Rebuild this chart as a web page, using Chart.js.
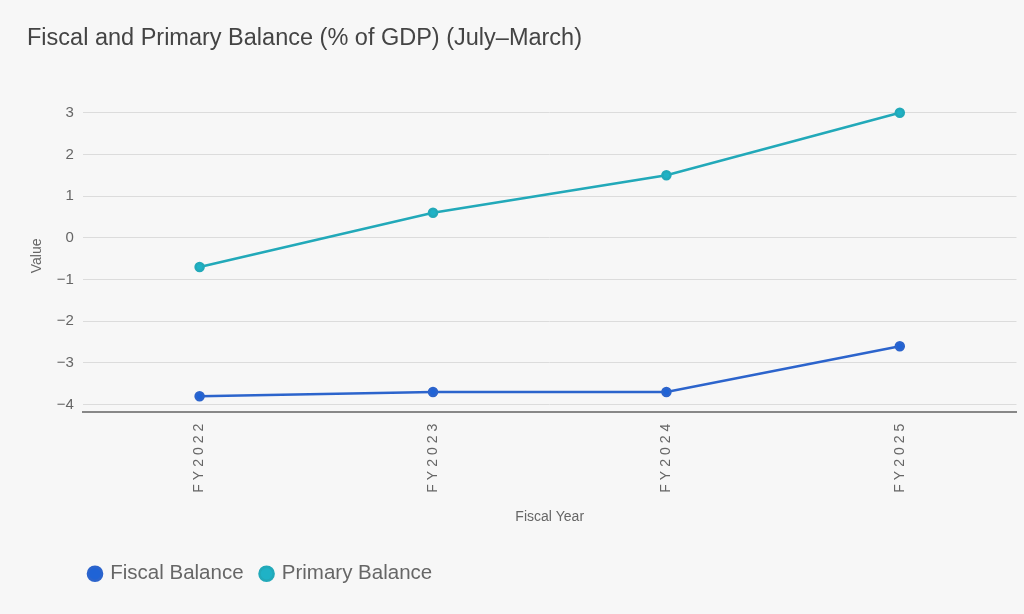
<!DOCTYPE html>
<html>
<head>
<meta charset="utf-8">
<script src="https://cdn.jsdelivr.net/npm/chart.js@4"></script>
<style>
  html, body { margin: 0; padding: 0; background: #f7f7f7; }
  #wrap { width: 1024px; height: 614px; }
</style>
</head>
<body>
<div id="wrap"><canvas id="myChart"></canvas></div>
<script>
const years = ['FY2022', 'FY2023', 'FY2024', 'FY2025'];
const fiscalBalance = [-3.8, -3.7, -3.7, -2.6];
const primaryBalance = [-0.7, 0.6, 1.5, 3.0];

const fontFamily = "'Liberation Sans', Arial, sans-serif";

// spread out the x tick letters like the original, and nudge the legend right
const tweaks = {
    id: 'tweaks',
    afterLayout(chart)
    {
        chart.legend.left += 45;
        chart.legend.right += 45;
        const s = chart.scales.x;
        if (s._spaced) return;
        const orig = s.drawLabels.bind(s);
        s.drawLabels = function (area)
        {
            this.ctx.save();
            this.ctx.letterSpacing = '4px';
            orig(area);
            this.ctx.restore();
        };
        s._spaced = true;
    }
};

addChart();

function addChart()
{
    const ctx = document.getElementById('myChart').getContext('2d');
    new Chart(ctx, {
        type: 'line',
        data: {
            labels: years,
            datasets: [{
                label: 'Fiscal Balance',
                data: fiscalBalance,
                borderColor: '#2c64cc',
                backgroundColor: '#1f63d6',
                borderWidth: 2.5,
                pointRadius: 4,
                pointHoverRadius: 5,
                fill: false
            }, {
                label: 'Primary Balance',
                data: primaryBalance,
                borderColor: '#22a9b9',
                backgroundColor: '#1fb2c6',
                borderWidth: 2.5,
                pointRadius: 4,
                pointHoverRadius: 5,
                fill: false
            }]
        },
        plugins: [tweaks],
        options: {
            responsive: true,
            maintainAspectRatio: false,
            animation: false,
            layout: { padding: { left: 27, right: 4, top: 0, bottom: 20 } },
            plugins: {
                title: {
                    display: true,
                    text: 'Fiscal and Primary Balance (% of GDP) (July\u2013March)',
                    align: 'start',
                    color: '#444',
                    font: { family: fontFamily, size: 23.5, weight: 'normal' },
                    padding: { top: 24, bottom: 48 }
                },
                legend: {
                    position: 'bottom',
                    align: 'start',
                    labels: {
                        usePointStyle: true,
                        pointStyle: 'circle',
                        boxWidth: 10,
                        boxHeight: 10,
                        color: '#666',
                        padding: 18,
                        font: { family: fontFamily, size: 20.5 }
                    }
                },
                tooltip: { enabled: false }
            },
            scales: {
                x: {
                    offset: true,
                    grid: { display: false, drawTicks: false },
                    border: { display: true, color: '#888', width: 2 },
                    ticks: {
                        color: '#666',
                        maxRotation: 90,
                        minRotation: 90,
                        padding: 8,
                        font: { family: fontFamily, size: 14 }
                    },
                    title: {
                        display: true,
                        text: 'Fiscal Year',
                        color: '#666',
                        padding: { top: 32, bottom: 20 },
                        font: { family: fontFamily, size: 14 }
                    }
                },
                y: {
                    min: -4.17,
                    max: 3.3,
                    grid: { color: '#dcdcdc', drawTicks: false },
                    border: { display: false },
                    ticks: {
                        stepSize: 1,
                        includeBounds: false,
                        color: '#666',
                        padding: 9,
                        font: { family: fontFamily, size: 15 },
                        callback: function (value)
                        {
                            return String(value).replace('-', '\u2212');
                        }
                    },
                    title: {
                        display: true,
                        text: 'Value',
                        color: '#666',
                        padding: 2,
                        font: { family: fontFamily, size: 14 }
                    }
                }
            }
        }
    });
}
</script>
</body>
</html>
